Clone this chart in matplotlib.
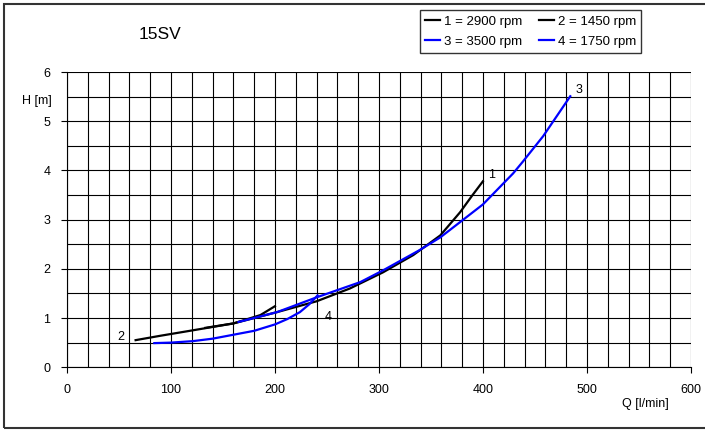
import matplotlib
matplotlib.use("Agg")
from matplotlib import pyplot as plt
from matplotlib.patches import Rectangle

plt.rcParams['font.family'] = ['Liberation Sans', 'DejaVu Sans']

# curve 1 : 2900 rpm
q1 = [133, 160, 202, 240, 272, 304, 333, 346, 359, 378, 390, 400]
h1 = [0.80, 0.89, 1.12, 1.34, 1.60, 1.93, 2.28, 2.48, 2.68, 3.15, 3.50, 3.78]
# curve 2 : 1450 rpm
q2 = [66, 90, 121, 160, 186, 200]
h2 = [0.55, 0.64, 0.75, 0.89, 1.06, 1.24]
# curve 3 : 3500 rpm
q3 = [165, 202, 240, 282, 304, 339, 359, 378, 400, 429, 438, 458, 484]
h3 = [0.92, 1.12, 1.42, 1.73, 1.97, 2.38, 2.64, 2.95, 3.31, 3.94, 4.17, 4.70, 5.51]
# curve 4 : 1750 rpm
q4 = [84, 100, 121, 140, 160, 180, 200, 212, 224, 233, 241]
h4 = [0.49, 0.50, 0.53, 0.58, 0.66, 0.74, 0.87, 0.98, 1.12, 1.28, 1.46]

fig = plt.figure(figsize=(7.05, 4.32), dpi=100)
ax = fig.add_axes([0.095, 0.150, 0.885, 0.683])

l1, = ax.plot(q1, h1, color='black', lw=1.6, label='1 = 2900 rpm')
l2, = ax.plot(q2, h2, color='black', lw=1.6, label='2 = 1450 rpm')
l3, = ax.plot(q3, h3, color='#0000ff', lw=1.6, label='3 = 3500 rpm')
l4, = ax.plot(q4, h4, color='#0000ff', lw=1.6, label='4 = 1750 rpm')

ax.text(405, 3.85, '1', fontsize=9)
ax.text(48, 0.56, '2', fontsize=9)
ax.text(489, 5.58, '3', fontsize=9)
ax.text(248, 0.95, '4', fontsize=9)

ax.set_xlim(0, 600)
ax.set_ylim(0, 6)
ax.set_xticks(range(0, 601, 100))
ax.set_yticks(range(0, 7))
ax.set_xticks(range(0, 601, 20), minor=True)
ax.set_yticks([i * 0.5 for i in range(13)], minor=True)
ax.grid(which='both', color='black', lw=0.8)
ax.tick_params(which='major', direction='out', length=4, width=0.8, labelsize=9, pad=8)
ax.tick_params(which='minor', length=0)
for s in ['top', 'right']:
    ax.spines[s].set_visible(False)
for s in ['left', 'bottom']:
    ax.spines[s].set_linewidth(0.8)

fig.text(0.031, 0.76, 'H [m]', fontsize=9)
fig.text(0.948, 0.065, 'Q [l/min]', fontsize=9, ha='right', va='center')
fig.text(0.227, 0.921, '15SV', fontsize=12.5, ha='center', va='center')

leg = fig.legend(handles=[l1, l3, l2, l4], ncol=2, loc='upper right',
                 bbox_to_anchor=(0.919, 0.992), fontsize=9.5, frameon=True,
                 fancybox=False, edgecolor='black', handlelength=1.1,
                 handletextpad=0.3, columnspacing=1.3, borderpad=0.4,
                 labelspacing=0.6)
leg.get_frame().set_linewidth(1.0)

fig.patches.append(Rectangle((4 / 705, 4 / 432), 1.0, 424 / 432,
                             transform=fig.transFigure, fill=False,
                             edgecolor='#333333', lw=1.5))

plt.savefig('out.png', dpi=100)
